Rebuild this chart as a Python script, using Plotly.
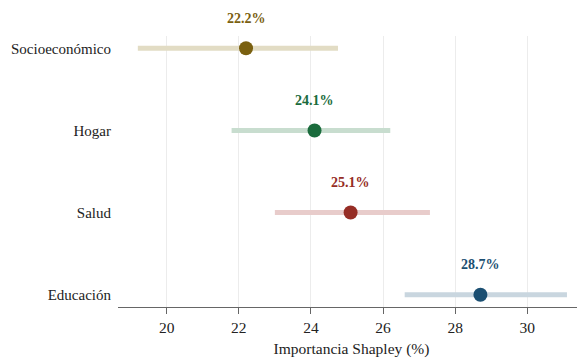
import plotly.graph_objects as go

categories = ["Educación", "Salud", "Hogar", "Socioeconómico"]
values = [28.7, 25.1, 24.1, 22.2]
lower = [26.6, 23.0, 21.8, 19.2]
upper = [31.1, 27.3, 26.2, 24.75]
labels = ["28.7%", "25.1%", "24.1%", "22.2%"]
dot_colors = ["#1b4f72", "#962d25", "#1a6b3c", "#7a6010"]
bar_colors = ["#c9d6df", "#e8cccb", "#c8ddcf", "#e2dcc4"]
x_ticks = [20, 22, 24, 26, 28, 30]

fig = go.Figure()
for i, c in enumerate(categories):
    fig.add_trace(go.Scatter(
        x=[lower[i], upper[i]], y=[i, i], mode="lines",
        line=dict(color=bar_colors[i], width=5), hoverinfo="skip", showlegend=False))
    fig.add_trace(go.Scatter(
        x=[values[i]], y=[i], mode="markers",
        marker=dict(color=dot_colors[i], size=14), showlegend=False))
    fig.add_annotation(x=values[i], y=i, text="<b>" + labels[i] + "</b>",
                       showarrow=False, yshift=30,
                       font=dict(color=dot_colors[i], size=14, family="Liberation Serif"))

fig.update_layout(
    width=577, height=350,
    margin=dict(l=110, r=0, t=28, b=51),
    plot_bgcolor="white", paper_bgcolor="white",
    font=dict(family="Liberation Serif", color="#222", size=15),
    xaxis=dict(range=[18.65, 31.6], tickvals=x_ticks, showgrid=True, gridcolor="#ececec",
               gridwidth=1, zeroline=False, showline=True, linecolor="#666", linewidth=1.2,
               ticks="outside", ticklen=6, tickcolor="#666", tickfont=dict(size=15.5),
               automargin=False,
               title=dict(text="Importancia Shapley (%)", standoff=8, font=dict(size=15.5))),
    yaxis=dict(range=[-0.15, 3.15], tickvals=list(range(len(categories))), ticktext=categories,
               showgrid=False, zeroline=False, showline=False, ticks="", ticklabelstandoff=6,
               automargin=False, tickfont=dict(size=15)),
)
fig.write_html("out.html")
